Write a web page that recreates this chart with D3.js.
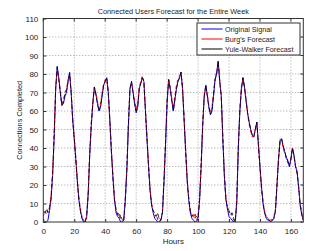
<!DOCTYPE html>
<html><head><meta charset="utf-8">
<script src="https://cdn.jsdelivr.net/npm/d3@7"></script>
<style>
html,body{margin:0;padding:0;background:#fff;}
svg text{font-family:"Liberation Sans",Arial,sans-serif;fill:#222;}
</style></head>
<body><svg id="c" width="335" height="251"></svg>
<script>
const title = "Connected Users Forecast for the Entire Week";
const xLabel = "Hours";
const yLabel = "Connections Completed";
const seriesNames = ["Original Signal", "Burg's Forecast", "Yule-Walker Forecast"];
const xTicks = [0,20,40,60,80,100,120,140,160];
const yTicks = [0,10,20,30,40,50,60,70,80,90,100,110];
const hours = d3.range(0,169);
const original = [0,0,0,1,6,12,25,45,72,84,
78,70,63,64,68,70,76,81,70,55,
45,34,22,12,6,2,0,0,3,15,
36,52,64,73,69,64,60,62,68,74,
76,78,70,55,38,24,12,5,3,2,
0,0,1,12,28,52,72,76,70,64,
59,62,72,75,78,76,60,45,30,17,
9,5,2,1,0,0,1,5,22,42,
65,77,72,66,60,66,72,76,78,81,
72,55,38,22,12,5,2,1,0,0,
2,12,30,52,68,74,68,62,58,60,
68,77,80,87,76,68,45,25,12,7,
3,2,1,0,0,10,40,60,72,78,
73,66,59,54,50,47,46,50,54,42,
30,19,10,5,2,1,1,0,1,2,
6,20,34,44,45,41,38,35,33,30,
34,40,36,30,27,19,9,4,1];
const burg = [3,6,4,7,6,14,26,47,73,82,
77,71,64,66,70,72,77,79,71,56,
46,35,23,13,7,3,1,0,2,16,
38,54,65,72,70,65,61,64,70,75,
77,77,69,54,39,25,13,6,5,2,
4,1,2,13,30,54,73,75,71,65,
61,64,73,76,79,75,61,46,31,18,
10,6,3,4,1,0,2,6,24,44,
66,76,73,67,62,68,74,77,79,80,
71,56,39,23,13,6,4,2,5,1,
3,13,32,54,69,73,69,63,59,62,
70,78,81,86,77,67,46,26,13,8,
5,6,3,1,0,12,41,61,73,77,
72,65,58,53,49,46,46,51,53,41,
29,18,11,6,3,2,1,1,2,3,
7,21,35,45,44,40,37,34,32,30,
35,40,35,30,26,18,10,5,1];
const yuleWalker = [6,5,7,5,8,13,26,46,72,84,
77,70,63,65,69,71,76,80,70,55,
45,34,22,12,6,2,1,0,3,15,
37,53,64,73,69,64,60,63,69,74,
76,78,70,55,38,24,12,7,4,5,
2,1,1,12,29,53,72,76,70,64,
60,63,72,75,78,76,60,45,30,17,
9,6,5,3,5,1,1,5,22,43,
65,77,72,66,60,66,72,76,78,81,
72,55,38,22,12,6,3,4,2,3,
2,12,31,53,68,74,68,62,58,61,
69,77,80,87,76,68,45,25,12,8,
6,4,5,2,0,11,40,60,72,78,
73,66,59,54,50,47,46,50,54,42,
30,19,10,5,3,2,1,0,1,2,
6,20,34,44,45,41,38,35,33,30,
34,40,36,30,27,19,9,4,1];
const colors = ["#0000ff", "#ff0000", "#000000"];

const svg = d3.select("#c");
const L = 43.3, R = 303.3, T = 18.5, B = 222;
const x = d3.scaleLinear().domain([0,168]).range([L,R]);
const y = d3.scaleLinear().domain([0,110]).range([B,T]);

// grid
const g = svg.append("g");
g.selectAll(".gx").data(xTicks.filter(d=>d>0)).enter().append("line")
  .attr("x1",d=>x(d)).attr("x2",d=>x(d)).attr("y1",T).attr("y2",B)
  .attr("stroke","#888").attr("stroke-width",0.8).attr("stroke-dasharray","1,2");
g.selectAll(".gy").data(yTicks.filter(d=>d>0&&d<110)).enter().append("line")
  .attr("y1",d=>y(d)).attr("y2",d=>y(d)).attr("x1",L).attr("x2",R)
  .attr("stroke","#888").attr("stroke-width",0.8).attr("stroke-dasharray","1,2");

// axes
const xa = svg.append("g").attr("transform",`translate(0,${B})`)
  .call(d3.axisBottom(x).tickValues(xTicks).tickSize(-3).tickPadding(6).tickFormat(d3.format("d")));
const ya = svg.append("g").attr("transform",`translate(${L},0)`)
  .call(d3.axisLeft(y).tickValues(yTicks).tickSize(-3).tickPadding(5).tickFormat(d3.format("d")));
[xa,ya].forEach(a=>{
  a.select(".domain").remove();
  a.selectAll("line").attr("stroke","#333");
  a.selectAll("text").attr("font-size","8px").attr("fill","#222")
   .style("font-family","'Liberation Sans',Arial,sans-serif");
});
// top/right ticks
svg.append("g").selectAll("line").data(xTicks).enter().append("line")
  .attr("x1",d=>x(d)).attr("x2",d=>x(d)).attr("y1",T).attr("y2",T+3).attr("stroke","#333");
svg.append("g").selectAll("line").data(yTicks).enter().append("line")
  .attr("y1",d=>y(d)).attr("y2",d=>y(d)).attr("x1",R).attr("x2",R-3).attr("stroke","#333");

// lines
const line = d3.line().x((d,i)=>x(hours[i])).y(d=>y(d));
svg.append("clipPath").attr("id","pc").append("rect")
  .attr("x",L).attr("y",T).attr("width",R-L).attr("height",B-T);
const lg = svg.append("g").attr("clip-path","url(#pc)");
lg.append("path").datum(original).attr("d",line).attr("fill","none")
  .attr("stroke",colors[0]).attr("stroke-width",1);
lg.append("path").datum(burg).attr("d",line).attr("fill","none")
  .attr("stroke",colors[1]).attr("stroke-width",1).attr("stroke-dasharray","3,3");
lg.append("path").datum(yuleWalker).attr("d",line).attr("fill","none")
  .attr("stroke",colors[2]).attr("stroke-width",0.9).attr("stroke-dasharray","5,2").attr("stroke-opacity",0.85);

// box
svg.append("rect").attr("x",L).attr("y",T).attr("width",R-L).attr("height",B-T)
  .attr("fill","none").attr("stroke","#333").attr("stroke-width",1);

// legend
const lgd = svg.append("g");
lgd.append("rect").attr("x",197).attr("y",23).attr("width",103).attr("height",32)
  .attr("fill","#fff").attr("stroke","#333").attr("stroke-width",1);
seriesNames.forEach((n,i)=>{
  const yy = 29 + i*10;
  lgd.append("line").attr("x1",201.5).attr("x2",222.5).attr("y1",yy).attr("y2",yy)
    .attr("stroke",colors[i]).attr("stroke-width",1);
  lgd.append("text").attr("x",225).attr("y",yy).attr("dy","0.35em")
    .attr("font-size","7.2px").text(n);
});

// labels
svg.append("text").attr("x",(L+R)/2).attr("y",14).attr("text-anchor","middle")
  .attr("font-size","7.3px").text(title);
svg.append("text").attr("x",(L+R)/2).attr("y",244).attr("text-anchor","middle")
  .attr("font-size","8px").text(xLabel);
svg.append("text").attr("transform",`translate(22,${(T+B)/2}) rotate(-90)`)
  .attr("text-anchor","middle").attr("font-size","7.4px").text(yLabel);
</script></body></html>
